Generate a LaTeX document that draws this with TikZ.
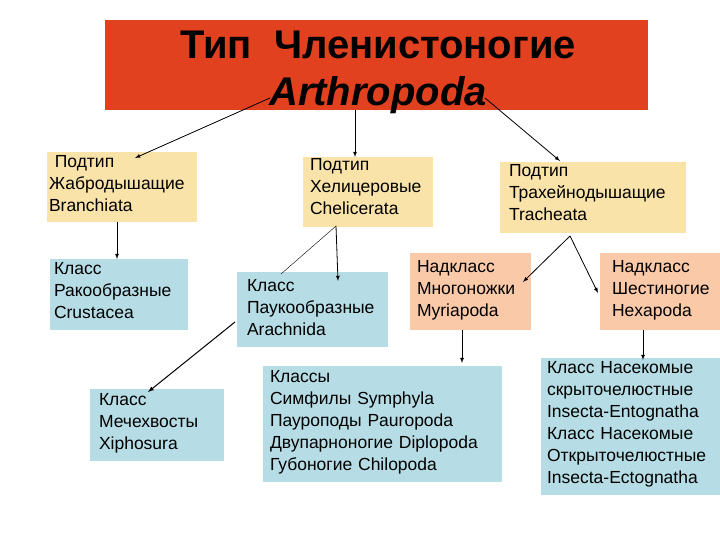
\documentclass[tikz,border=0pt]{standalone}
\usepackage{fontspec}
\setmainfont{Liberation Sans}
\begin{document}
\begin{tikzpicture}[x=1pt,y=-1pt,
 bx/.style={anchor=north west,inner sep=0pt,outer sep=0pt,text width=#1,align=left,font=\fontsize{17.5}{22}\selectfont},
 ar/.style={-latex,thick},
 ln/.style={thick}]
\useasboundingbox (0,0) rectangle (720,540);
\definecolor{rd}{HTML}{E2411F}\definecolor{yl}{HTML}{FAE3A8}
\definecolor{bl}{HTML}{B6DDE5}\definecolor{pc}{HTML}{FAC9A8}
\fill[rd] (105,20) rectangle (648,110);
\node[font=\bfseries\fontsize{40}{47}\selectfont,align=center] (t) at (378,72) {Тип~~Членистоногие\\ \itshape Arthropoda};
\fill[yl] (47,152) rectangle (197,222); \node[bx=160] (b1) at (49,155) {~Подтип\\Жабродышащие\\Branchiata};
\fill[yl] (303,157) rectangle (433,227); \node[bx=140] (b2) at (310,158) {Подтип\\Хелицеровые\\Chelicerata};
\fill[yl] (500,162) rectangle (686,233); \node[bx=190] (b3) at (509,164) {Подтип\\Трахейнодышащие\\Tracheata};
\fill[bl] (50,259) rectangle (188,330); \node[bx=140] (c1) at (54,262) {Класс\\Ракообразные\\Crustacea};
\fill[bl] (237,272) rectangle (388,347); \node[bx=150] (c2) at (247,279) {Класс\\Паукообразные\\Arachnida};
\fill[pc] (410,253) rectangle (531,330); \node[bx=120] (c3) at (417,260) {Надкласс\\Многоножки\\Myriapoda};
\fill[pc] (600,253) rectangle (720,330); \node[bx=120] (c4) at (612,260) {Надкласс\\Шестиногие\\Hexapoda};
\fill[bl] (90,389) rectangle (224,461); \node[bx=130] (d1) at (99,393) {Класс\\Мечехвосты\\Xiphosura};
\fill[bl] (263,366) rectangle (502,482); \node[bx=236] (d2) at (270,370) {Классы\\Симфилы Symphyla\\Пауроподы Pauropoda\\Двупарноногие Diplopoda\\Губоногие Chilopoda};
\fill[bl] (541,358) rectangle (720,495); \node[bx=178] (d3) at (547,361) {Класс Насекомые\\скрыточелюстные\\Insecta-Entognatha\\Класс Насекомые\\Открыточелюстные\\Insecta-Ectognatha};
\coordinate (t1) at (270,98); \coordinate (t2) at (355,110); \coordinate (t3) at (485,98);
\draw[ar] (t1) -- (135,158);
\draw[ar] (t2) -- (355,157);
\draw[ar] (t3) -- (560,161);
\draw[ar] (117,222) -- (117,259);
\coordinate (b2b) at (336,226);
\draw (b2b) -- (281,274);
\draw[ar] (b2b) -- (338,281);
\draw[ar,line width=1pt] (235,322) -- (148,392);
\coordinate (b3b) at (570,236);
\draw[ar] (b3b) -- (523,282);
\draw[ar] (b3b) -- (598,293);
\draw[ar] (462,330) -- (462,363);
\draw[ar] (643,330) -- (643,360);
\end{tikzpicture}
\end{document}
